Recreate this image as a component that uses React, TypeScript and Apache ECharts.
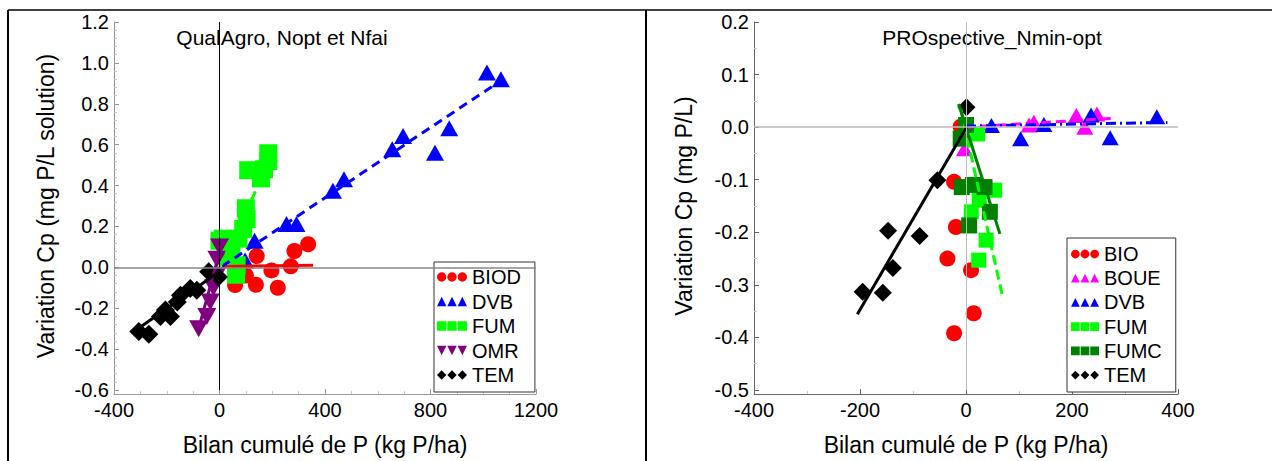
import React, { useEffect, useRef } from "react";
import * as echarts from "echarts";

// ---------- Left panel: QualAgro, Nopt et Nfai ----------
const leftTitle = "QualAgro, Nopt et Nfai";
const leftXRange = [-400, 1200, 400];
const leftYRange = [-0.6, 1.2, 0.2];
const leftYName = "Variation Cp (mg P/L solution)";

const leftBIOD = [[59, -0.087], [100, -0.04], [141, 0.055], [138, -0.085], [197, -0.015], [221, -0.1], [270, 0.005], [284, 0.08], [336, 0.113]];
const leftDVB = [[97, 0.034], [133, 0.13], [254, 0.212], [292, 0.212], [430, 0.375], [472, 0.431], [655, 0.578], [696, 0.643], [817, 0.56], [871, 0.68], [1014, 0.953], [1067, 0.92]];
const leftFUM = [[0, 0.13], [12, 0.14], [30, 0.06], [45, 0.1], [63, -0.036], [65, 0.01], [72, 0.14], [90, 0.188], [103, 0.237], [100, 0.289], [109, 0.475], [157, 0.435], [169, 0.48], [185, 0.52], [185, 0.558]];
const leftOMR = [[-79, -0.3], [-48, -0.24], [-35, -0.17], [-23, -0.1], [-10, -0.04], [-10, 0.04], [0, 0.1]];
const leftTEM = [[-306, -0.314], [-268, -0.327], [-224, -0.241], [-205, -0.209], [-186, -0.241], [-160, -0.17], [-148, -0.136], [-111, -0.104], [-86, -0.112], [-41, -0.022], [-4, -0.047]];

const leftFitBIOD = [[10, 0.004], [355, 0.01]];
const leftFitDVB = [[10, 0.005], [1040, 0.89]];
const leftFitFUM = [[0, 0.0], [165, 0.45]];
const leftFitOMR = [[-75, -0.28], [10, 0.12]];
const leftFitTEM = [[-320, -0.31], [0, -0.02]];

// ---------- Right panel: PROspective_Nmin-opt ----------
const rightTitle = "PROspective_Nmin-opt";
const rightXRange = [-400, 400, 200];
const rightYRange = [-0.5, 0.2, 0.1];
const rightYName = "Variation Cp (mg P/L)";
const xName = "Bilan cumulé de P (kg P/ha)";

const rightBIO = [[-10, 0.001], [-22.5, -0.104], [-19, -0.19], [-35, -0.25], [9.5, -0.272], [14.6, -0.354], [-22.5, -0.392]];
const rightBOUE = [[-3, -0.041], [119, 0.004], [128, 0.0095], [208, 0.022], [224, 0.0], [247, 0.025]];
const rightDVB = [[48, 0.003], [103, -0.022], [147, 0.005], [236, 0.023], [272, -0.02], [360, 0.02]];
const rightFUM = [[22, -0.013], [54, -0.12], [25, -0.139], [10, -0.161], [38, -0.215], [24, -0.253]];
const rightFUMC = [[0, 0.004], [-10, -0.022], [-8, -0.114], [13, -0.11], [35, -0.114], [45, -0.161], [6, -0.187]];
const rightTEM = [[0.8, 0.038], [-54, -0.101], [-147, -0.197], [-87.5, -0.207], [-138, -0.268], [-195, -0.313], [-157, -0.315]];

const rightFitTEM = [[-205, -0.356], [3, 0.003]];
const rightFitFUM = [[-10, 0.035], [70, -0.327]];
const rightFitFUMC = [[-14, 0.044], [64, -0.203]];
const rightFitBOUE = [[0, 0.0], [280, 0.017]];
const rightFitDVB = [[0, 0.002], [380, 0.009]];

const leftLegend = ["BIOD", "DVB", "FUM", "OMR", "TEM"];
const rightLegend = ["BIO", "BOUE", "DVB", "FUM", "FUMC", "TEM"];

const FONT = "Liberation Sans";

const ICONS: Record<string, string> = {
  circle: "path://M0,5A5,5,0,1,1,10,5A5,5,0,1,1,0,5ZM11,5A5,5,0,1,1,21,5A5,5,0,1,1,11,5ZM22,5A5,5,0,1,1,32,5A5,5,0,1,1,22,5Z",
  triangle: "path://M0,10L5,0L10,10ZM11,10L16,0L21,10ZM22,10L27,0L32,10Z",
  down: "path://M0,0L10,0L5,10ZM11,0L21,0L16,10ZM22,0L32,0L27,10Z",
  square: "path://M0,0L10,0L10,10L0,10ZM11,0L21,0L21,10L11,10ZM22,0L32,0L32,10L22,10Z",
  diamond: "path://M5,0L10,5L5,10L0,5ZM16,0L21,5L16,10L11,5ZM27,0L32,5L27,10L22,5Z",
};
const ICON_OF: Record<string, string> = {
  BIOD: "circle", BIO: "circle", BOUE: "triangle", DVB: "triangle", FUM: "square", FUMC: "square", OMR: "down", TEM: "diamond",
};

function scatter(name: string, data: number[][], color: string, symbol: string, size: any, gi: number, rotate = 0) {
  return {
    type: "scatter", name, data, xAxisIndex: gi, yAxisIndex: gi,
    symbol, symbolSize: size, symbolRotate: rotate,
    itemStyle: { color, opacity: 1 }, z: 3, silent: true,
  };
}
function fit(name: string, data: number[][], color: string, type: any, gi: number, width = 3) {
  return {
    type: "line", name, data, xAxisIndex: gi, yAxisIndex: gi, symbol: "none",
    lineStyle: { color, width, type }, z: 4, silent: true,
  };
}
function xAxis(gi: number, r: number[], minorSplit: number, lineColor: string) {
  return {
    gridIndex: gi, type: "value", min: r[0], max: r[1], interval: r[2], offset: 4,
    axisLine: { show: true, onZero: false, lineStyle: { color: lineColor, width: 1 } },
    axisTick: { show: true, inside: true, length: 5, lineStyle: { color: lineColor } },
    minorTick: { show: true, splitNumber: minorSplit, length: 3, lineStyle: { color: "#c8c8c8" } },
    splitLine: { show: false },
    axisLabel: { fontSize: 20, color: "#000", margin: 6, fontFamily: FONT, formatter: (v: number) => String(v) },
    name: xName, nameLocation: "middle", nameGap: 39,
    nameTextStyle: { fontSize: 23, color: "#000", fontFamily: FONT },
  };
}
function yAxis(gi: number, r: number[], minorSplit: number, lineColor: string, name: string, gap: number) {
  return {
    gridIndex: gi, type: "value", min: r[0], max: r[1], interval: r[2],
    axisLine: { show: true, onZero: false, lineStyle: { color: lineColor, width: 1 } },
    axisTick: { show: true, inside: true, length: 5, lineStyle: { color: lineColor } },
    minorTick: { show: true, splitNumber: minorSplit, length: 3, lineStyle: { color: "#c8c8c8" } },
    splitLine: { show: false },
    axisLabel: { fontSize: 20, color: "#000", margin: 5, fontFamily: FONT, formatter: (v: number) => v.toFixed(1) },
    name, nameLocation: "middle", nameGap: gap,
    nameTextStyle: { fontSize: 23, color: "#000", fontFamily: FONT },
  };
}
function zeroLines(gi: number, vColor: string, hColor: string) {
  return {
    type: "scatter", name: "zero" + gi, data: [], xAxisIndex: gi, yAxisIndex: gi, z: 1, silent: true,
    markLine: {
      silent: true, symbol: ["none", "none"], label: { show: false }, animation: false,
      data: [
        { xAxis: 0, lineStyle: { color: vColor, width: 1, type: "solid" } },
        { yAxis: 0, lineStyle: { color: hColor, width: 1.5, type: "solid" } },
      ],
    },
  };
}
function legend(names: string[], left: number, top: number, padding: number[], gap: number, iw: number) {
  return {
    orient: "vertical", left, top, padding, itemGap: gap, itemWidth: iw, itemHeight: 10,
    borderColor: "#333", borderWidth: 1, backgroundColor: "#fff",
    selectedMode: false,
    textStyle: { fontSize: 20, color: "#000", fontFamily: FONT },
    data: names.map((n) => ({ name: n, icon: ICONS[ICON_OF[n]] })),
  };
}

export default function App() {
  const ref = useRef<HTMLDivElement>(null);
  useEffect(() => {
    if (!ref.current) return;
    const chart = echarts.init(ref.current, null, { renderer: "svg" });
    const option: any = {
      animation: false,
      backgroundColor: "#fff",
      textStyle: { fontFamily: FONT },
      grid: [
        { left: 114, right: 1272 - 536, top: 22, bottom: 461 - 392 },
        { left: 754, right: 1272 - 1178, top: 22, bottom: 461 - 392 },
      ],
      xAxis: [xAxis(0, leftXRange, 4, "#999"), xAxis(1, rightXRange, 2, "#666")],
      yAxis: [
        yAxis(0, leftYRange, 5, "#999", leftYName, 57),
        yAxis(1, rightYRange, 2, "#666", rightYName, 59),
      ],
      legend: [
        legend(leftLegend, 434, 262, [5, 14, 7, 3], 4.5, 30),
        legend(rightLegend, 1067, 238, [6, 14, 7, 4], 4.2, 28),
      ],
      graphic: [
        { type: "line", shape: { x1: 8, y1: 10, x2: 1272, y2: 10 }, style: { stroke: "#000", lineWidth: 1.5 } },
        { type: "line", shape: { x1: 8, y1: 10, x2: 8, y2: 461 }, style: { stroke: "#000", lineWidth: 2 } },
        { type: "line", shape: { x1: 646, y1: 10, x2: 646, y2: 461 }, style: { stroke: "#000", lineWidth: 2 } },
        { type: "text", x: 282, y: 37, style: { text: leftTitle, fontSize: 21, fontFamily: FONT, fill: "#000", textAlign: "center", textVerticalAlign: "middle" } },
        { type: "text", x: 992, y: 37, style: { text: rightTitle, fontSize: 21, fontFamily: FONT, fill: "#000", textAlign: "center", textVerticalAlign: "middle" } },
      ],
      series: [
        zeroLines(0, "#000", "#888"),
        zeroLines(1, "#bbb", "#bbb"),
        scatter("BIOD", leftBIOD, "#ff0000", "circle", 16, 0),
        scatter("DVB", leftDVB, "#0000ff", "triangle", [18, 16], 0),
        scatter("FUM", leftFUM, "#00ff00", "rect", 18, 0),
        scatter("OMR", leftOMR, "#800080", "triangle", [19, 17], 0, 180),
        scatter("TEM", leftTEM, "#000000", "diamond", 19, 0),
        fit("BIOD fit", leftFitBIOD, "#ff0000", "solid", 0),
        fit("DVB fit", leftFitDVB, "#0000ff", [9, 6], 0),
        fit("FUM fit", leftFitFUM, "#00ff00", [9, 6], 0),
        fit("OMR fit", leftFitOMR, "#800080", "solid", 0),
        fit("TEM fit", leftFitTEM, "#000000", "solid", 0),
        scatter("BIO", rightBIO, "#ff0000", "circle", 16, 1),
        scatter("BOUE", rightBOUE, "#ff00ff", "triangle", [17, 15], 1),
        scatter("DVB", rightDVB, "#0000ff", "triangle", [17, 15], 1),
        scatter("FUM", rightFUM, "#00ff00", "rect", 15, 1),
        scatter("FUMC", rightFUMC, "#008000", "rect", 16, 1),
        scatter("TEM", rightTEM, "#000000", "diamond", 18, 1),
        fit("BOUE fit", rightFitBOUE, "#ff00ff", [10, 5], 1),
        fit("DVB fit r", rightFitDVB, "#0000ff", [10, 4, 2, 4], 1),
        fit("FUM fit r", rightFitFUM, "#00ff00", [10, 5], 1),
        fit("FUMC fit", rightFitFUMC, "#008000", "solid", 1),
        fit("TEM fit r", rightFitTEM, "#000000", "solid", 1),
      ],
    };
    chart.setOption(option);
    return () => chart.dispose();
  }, []);
  return <div ref={ref} style={{ position: "absolute", left: 0, top: 0, width: 1272, height: 461 }} />;
}
